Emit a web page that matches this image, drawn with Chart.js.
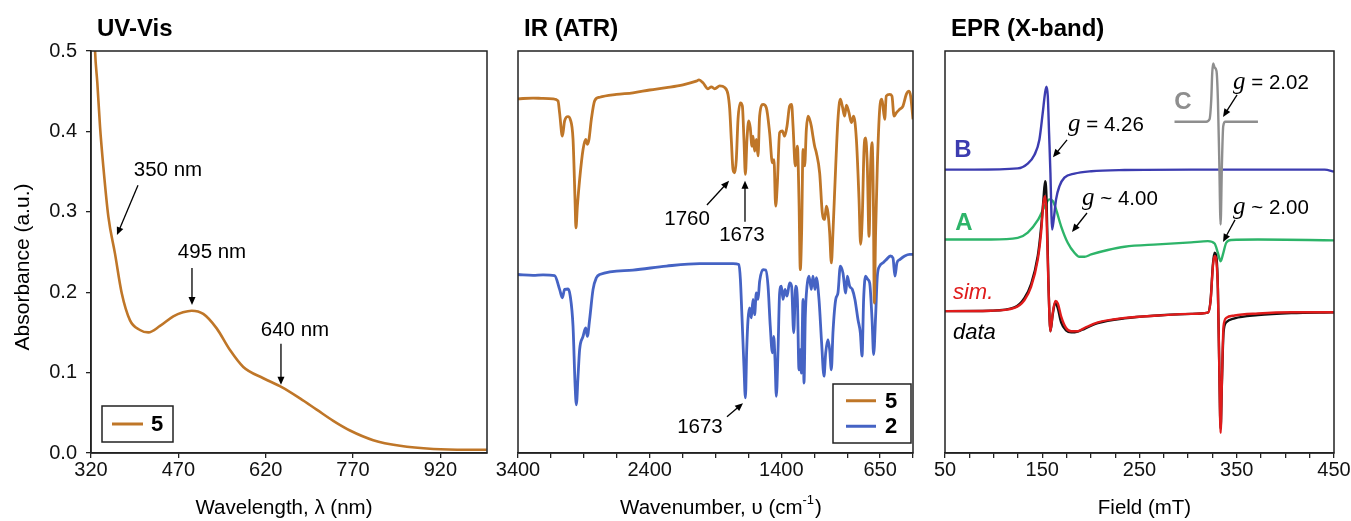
<!DOCTYPE html>
<html>
<head>
<meta charset="utf-8">
<script src="https://cdn.jsdelivr.net/npm/chart.js@4.4.1/dist/chart.umd.min.js"></script>
<style>
  body { margin: 0; background: #fff; width: 1351px; height: 521px; position: relative; overflow: hidden; }
  canvas { position: absolute; top: 0; }
</style>
</head>
<body>
<canvas id="uv" width="500" height="521" style="left:0px"></canvas>
<canvas id="ir" width="450" height="521" style="left:480px"></canvas>
<canvas id="epr" width="426" height="521" style="left:925px"></canvas>
<script>
const FONT = "'Liberation Sans', Arial, Helvetica, sans-serif";
const TXT = '20.5px ' + FONT;

// UV-Vis, compound 5
const uvWavelength = [324.5, 326.9, 330.9, 335.5, 341.2, 349.8, 361.2, 372.7, 387, 404, 418.4, 438.5, 461.3, 478, 492.9, 512.8, 535.8, 558.7, 581.5, 615.9, 647.5, 678.9, 707.5, 736, 764.7, 804.7, 850.6, 907.8, 965, 999.5];
const uvAbsorbance = [0.56, 0.501, 0.460, 0.406, 0.356, 0.294, 0.248, 0.199, 0.165, 0.153, 0.150, 0.158, 0.170, 0.175, 0.177, 0.173, 0.155, 0.128, 0.107, 0.093, 0.082, 0.068, 0.054, 0.040, 0.028, 0.016, 0.009, 0.005, 0.004, 0.004];
const uvTicks = [320, 470, 620, 770, 920];

// IR (ATR), compound 5
const irWavenumber5 = [3400, 3286, 3210, 3134, 3096, 3084, 3063, 3046, 3020, 3003, 2982, 2967, 2960, 2949, 2932, 2906, 2886, 2873, 2861, 2843, 2818, 2780, 2653, 2527, 2400, 2273, 2147, 2046, 2025, 1995, 1957, 1932, 1906, 1868, 1830, 1805, 1792, 1780, 1767, 1754, 1742, 1729, 1711, 1696, 1684, 1673, 1661, 1648, 1636, 1623, 1615, 1603, 1590, 1577, 1565, 1539, 1514, 1489, 1468, 1456, 1443, 1430, 1413, 1392, 1375, 1357, 1337, 1322, 1311, 1294, 1278, 1266, 1256, 1246, 1235, 1223, 1210, 1198, 1185, 1172, 1160, 1147, 1134, 1109, 1089, 1071, 1058, 1046, 1033, 1020, 1008, 987, 970, 952, 937, 919, 906, 886, 868, 851, 830, 810, 798, 785, 772, 760, 747, 734, 722, 711, 701, 694, 684, 671, 653, 636, 615, 603, 577, 560, 544, 527, 501, 476, 451, 430, 418, 400];
const irSignal5 = [88.1, 88.3, 88.2, 88.1, 87.6, 84.6, 78.8, 82.6, 83.7, 83.0, 78.0, 63.1, 56.0, 61.4, 68.0, 75.5, 78.0, 76.8, 78.0, 83.0, 87.6, 88.5, 89.2, 89.6, 90.3, 90.9, 91.6, 92.5, 92.8, 92.1, 90.6, 91.1, 90.6, 91.3, 90.9, 89.2, 85.5, 78.0, 70.5, 69.7, 73.0, 83.0, 87.1, 86.3, 78.0, 69.3, 78.0, 82.6, 80.9, 76.3, 78.8, 75.1, 78.0, 73.9, 83.8, 86.7, 85.9, 79.7, 72.2, 73.0, 61.4, 67.2, 79.7, 80.1, 78.8, 81.3, 86.3, 86.7, 81.3, 71.4, 76.3, 63.1, 45.6, 54.8, 75.5, 71.4, 80.5, 83.8, 83.0, 81.3, 78.8, 76.3, 74.7, 69.7, 59.8, 58.1, 61.4, 59.8, 54.8, 47.3, 54.8, 71.4, 83.0, 88.0, 86.3, 83.8, 86.5, 84.6, 82.2, 83.8, 78.0, 63.1, 51.9, 58.9, 75.5, 78.4, 71.4, 53.9, 71.4, 77.2, 63.1, 37.3, 54.8, 71.4, 85.5, 88.0, 83.0, 88.8, 89.2, 88.8, 83.8, 84.6, 85.5, 86.3, 89.2, 90.0, 88.8, 83.0];

// IR (ATR), compound 2
const irWavenumber2 = [3400, 3286, 3210, 3122, 3084, 3063, 3046, 3020, 3003, 2982, 2967, 2957, 2944, 2932, 2906, 2886, 2873, 2856, 2830, 2805, 2780, 2527, 2273, 2020, 1894, 1767, 1722, 1711, 1699, 1684, 1673, 1663, 1653, 1641, 1628, 1615, 1603, 1590, 1577, 1565, 1539, 1519, 1501, 1484, 1468, 1458, 1448, 1438, 1425, 1413, 1400, 1387, 1372, 1357, 1337, 1322, 1306, 1291, 1278, 1266, 1256, 1248, 1235, 1228, 1218, 1205, 1190, 1172, 1160, 1144, 1134, 1114, 1094, 1076, 1063, 1046, 1033, 1020, 1008, 987, 970, 952, 932, 911, 899, 881, 861, 841, 818, 800, 787, 775, 760, 744, 729, 711, 699, 684, 671, 653, 628, 603, 572, 552, 537, 522, 501, 463, 425, 400];
const irSignal2 = [44.4, 44.2, 44.3, 44.1, 40.7, 38.6, 40.7, 40.8, 39.0, 31.5, 17.4, 12.0, 19.1, 25.7, 29.0, 31.1, 29.0, 33.2, 40.7, 43.6, 44.4, 45.5, 46.5, 47.1, 47.1, 47.1, 46.9, 43.2, 34.0, 21.6, 13.7, 25.7, 33.2, 36.1, 33.6, 38.2, 34.4, 39.8, 38.2, 42.7, 45.6, 45.5, 41.5, 31.5, 24.9, 29.0, 23.2, 14.1, 25.7, 39.8, 41.5, 38.2, 40.7, 39.0, 42.3, 41.5, 29.9, 41.5, 38.2, 20.7, 25.7, 19.9, 38.2, 17.4, 34.0, 41.5, 44.0, 40.7, 44.0, 40.7, 43.6, 38.2, 27.4, 19.1, 24.9, 28.2, 25.7, 20.7, 29.9, 38.2, 39.8, 46.5, 44.8, 39.8, 44.0, 41.5, 40.7, 38.2, 33.2, 29.9, 24.1, 38.2, 44.0, 43.2, 42.3, 33.2, 24.5, 34.0, 44.0, 46.5, 47.3, 48.1, 49.0, 48.5, 44.0, 47.3, 48.1, 49.0, 49.4, 49.4];
const irTickLabels = [3400, 2400, 1400, 650];

// EPR (X-band)
const eprFieldB = [50, 80.2, 124.8, 135.1, 141.9, 147.1, 150.5, 152.9, 154.3, 155.7, 157.0, 158.4, 159.4, 160.1, 161.8, 164.2, 167.7, 172.8, 183.1, 200.3, 234.6, 303.2, 371.8, 440.4, 450];
const eprB = [70.5, 70.5, 70.8, 72.0, 74.1, 78.0, 84.6, 89.6, 91.1, 88.8, 79.7, 69.7, 59.8, 55.6, 58.1, 63.1, 66.4, 68.5, 69.5, 70.1, 70.4, 70.5, 70.5, 70.5, 70.0];
const eprFieldA = [50, 97.3, 124.8, 135.1, 145.4, 152.2, 157.4, 160.8, 164.2, 169.4, 176.2, 183.1, 188.2, 193.4, 200.3, 217.4, 234.6, 268.9, 303.2, 320.3, 327.2, 330.6, 333.4, 335.8, 339.2, 344.3, 371.8, 450];
const eprA = [53.1, 53.1, 53.5, 54.8, 57.9, 61.2, 63.1, 62.7, 60.6, 56.4, 52.3, 49.8, 48.8, 48.8, 49.4, 50.5, 51.3, 51.9, 52.4, 52.7, 52.1, 49.8, 47.7, 49.4, 52.3, 53.0, 53.1, 52.9];
const eprFieldC = [286.0, 318.6, 322.0, 323.8, 324.8, 325.8, 327.2, 329.2, 330.6, 332.0, 333.4, 334.7, 336.1, 338.2, 371.8];
const eprC = [82.4, 82.4, 83.0, 88.0, 94.6, 96.9, 95.9, 95.0, 88.0, 73.0, 56.8, 71.4, 81.3, 82.4, 82.4];
const eprFieldSim = [50, 97.3, 121.4, 131.6, 138.5, 145.4, 148.8, 151.2, 152.9, 154.3, 156.3, 158.4, 160.8, 163.5, 166.0, 169.4, 174.5, 179.7, 186.5, 193.4, 207.1, 234.6, 268.9, 303.2, 320.3, 323.1, 325.5, 327.2, 329.2, 330.6, 332.0, 333.4, 334.7, 336.4, 339.2, 347.8, 371.8, 406.1, 450];
const eprSim = [35.3, 35.4, 36.1, 38.0, 41.3, 48.1, 54.8, 62.2, 63.9, 59.8, 42.3, 30.3, 34.9, 37.8, 37.2, 34.0, 31.1, 30.3, 30.3, 31.1, 32.5, 33.6, 34.2, 34.6, 34.9, 37.8, 46.5, 49.0, 47.3, 40.7, 21.6, 5.0, 17.4, 31.5, 33.6, 34.2, 34.7, 35.0, 35.0];
const eprFieldData = [50, 97.3, 121.4, 131.6, 138.5, 145.4, 148.8, 151.2, 152.9, 154.3, 156.3, 158.4, 160.8, 163.5, 166.0, 169.4, 174.5, 179.7, 186.5, 193.4, 207.1, 234.6, 268.9, 303.2, 320.3, 323.1, 325.5, 327.2, 329.2, 330.6, 332.0, 333.4, 334.7, 336.4, 339.2, 347.8, 371.8, 406.1, 450];
const eprData = [35.3, 35.4, 36.2, 38.5, 42.0, 49.0, 56.0, 63.0, 67.6, 64.0, 43.0, 30.3, 34.5, 37.5, 36.0, 32.5, 30.5, 30.0, 30.2, 30.9, 32.3, 33.5, 34.2, 34.6, 34.9, 38.0, 47.0, 49.8, 48.5, 41.0, 22.0, 6.0, 17.0, 30.0, 32.5, 33.5, 34.3, 34.8, 35.0];
const eprTickLabels = [50, 150, 250, 350, 450];

const ORANGE = '#bf7628';
const IRBLUE = '#4563c4';

function pts(xs, ys) {
  return xs.map((x, i) => ({ x: x, y: ys[i] }));
}

function arrow(ctx, x1, y1, x2, y2) {
  const a = Math.atan2(y2 - y1, x2 - x1), L = 8, W = 3.5;
  ctx.beginPath();
  ctx.moveTo(x1, y1);
  ctx.lineTo(x2 - Math.cos(a) * L * 0.7, y2 - Math.sin(a) * L * 0.7);
  ctx.stroke();
  ctx.beginPath();
  ctx.moveTo(x2, y2);
  ctx.lineTo(x2 - L * Math.cos(a) + W * Math.sin(a), y2 - L * Math.sin(a) - W * Math.cos(a));
  ctx.lineTo(x2 - L * Math.cos(a) - W * Math.sin(a), y2 - L * Math.sin(a) + W * Math.cos(a));
  ctx.closePath();
  ctx.fill();
}

// frame, titles, arrows, legends
const deco = {
  id: 'deco',
  afterDraw(chart, args, o) {
    const { ctx, chartArea: a, scales } = chart;
    const px = v => scales.x.getPixelForValue(v);
    const py = v => scales.y.getPixelForValue(v);
    ctx.save();
    ctx.strokeStyle = '#222';
    ctx.lineWidth = 1.5;
    ctx.strokeRect(a.left, a.top, a.right - a.left, a.bottom - a.top);

    ctx.fillStyle = '#000';
    ctx.textBaseline = 'middle';
    ctx.textAlign = 'left';
    ctx.font = 'bold 24px ' + FONT;
    ctx.fillText(o.title, a.left + 6, 29);

    // x title (optional superscript)
    ctx.font = TXT;
    const cx = (a.left + a.right) / 2 + o.xTitleDx;
    if (o.xSup) {
      const w1 = ctx.measureText(o.xTitle).width;
      ctx.font = '13px ' + FONT;
      const w2 = ctx.measureText(o.xSup).width;
      ctx.font = TXT;
      const w3 = ctx.measureText(o.xTitleEnd).width;
      const x0 = cx - (w1 + w2 + w3) / 2;
      ctx.fillText(o.xTitle, x0, 508);
      ctx.font = '13px ' + FONT;
      ctx.fillText(o.xSup, x0 + w1, 500);
      ctx.font = TXT;
      ctx.fillText(o.xTitleEnd, x0 + w1 + w2 + 1, 508);
    } else {
      ctx.textAlign = 'center';
      ctx.fillText(o.xTitle, cx, 508);
    }
    if (o.yTitle) {
      ctx.save();
      ctx.translate(23, 267);
      ctx.rotate(-Math.PI / 2);
      ctx.textAlign = 'center';
      ctx.font = '21px ' + FONT;
      ctx.fillText(o.yTitle, 0, 0);
      ctx.restore();
    }

    // arrows
    ctx.strokeStyle = '#000';
    ctx.fillStyle = '#000';
    ctx.lineWidth = 1.3;
    (o.arrows || []).forEach(r => arrow(ctx, px(r[0]), py(r[1]), px(r[2]), py(r[3])));

    // labels
    (o.labels || []).forEach(l => {
      ctx.fillStyle = l.color || '#000';
      ctx.textAlign = l.align || 'center';
      if (l.g) {
        ctx.textAlign = 'left';
        ctx.font = 'italic 25px "Liberation Serif", "Times New Roman", serif';
        const gw = ctx.measureText('g').width;
        ctx.fillText('g', px(l.x), py(l.y) - 1);
        ctx.font = TXT;
        ctx.fillText(l.text, px(l.x) + gw, py(l.y));
      } else {
        ctx.font = l.font || TXT;
        ctx.fillText(l.text, px(l.x), py(l.y));
      }
    });

    // legend box
    if (o.legend) {
      const L = o.legend;
      const n = chart.data.datasets.length;
      const bx = L.right != null ? a.right - L.right - L.w : a.left + L.left;
      const by = a.bottom - L.bottom - L.h;
      ctx.fillStyle = '#fff';
      ctx.fillRect(bx, by, L.w, L.h);
      ctx.strokeStyle = '#222';
      ctx.lineWidth = 1.5;
      ctx.strokeRect(bx, by, L.w, L.h);
      chart.data.datasets.forEach((d, i) => {
        const yy = by + L.h / (n * 2) * (2 * i + 1) + (n > 1 ? (i === 0 ? 2 : -2) : 0);
        ctx.strokeStyle = d.borderColor;
        ctx.lineWidth = 3;
        ctx.beginPath();
        ctx.moveTo(bx + L.lx1, yy);
        ctx.lineTo(bx + L.lx2, yy);
        ctx.stroke();
        ctx.fillStyle = '#000';
        ctx.font = 'bold 22px ' + FONT;
        ctx.textAlign = 'center';
        ctx.fillText(d.label, bx + L.tx, yy + 1);
      });
    }
    ctx.restore();
  }
};

const tickFont = { family: FONT, size: 20 };

function xAxis(extra) {
  return Object.assign({
    type: 'linear',
    afterFit: s => { s.height = 68; },
    grid: { drawOnChartArea: false, tickLength: 5, color: '#222', lineWidth: 1.3 },
    border: { color: '#222', width: 1.5 }
  }, extra);
}

const common = {
  responsive: false,
  animation: false,
  devicePixelRatio: 1,
  elements: { point: { radius: 0 } }
};

// Panel 1: UV-Vis
new Chart(document.getElementById('uv'), {
  type: 'scatter',
  data: {
    datasets: [{
      label: '5', data: pts(uvWavelength, uvAbsorbance), showLine: true,
      borderColor: ORANGE, borderWidth: 2.6, cubicInterpolationMode: 'monotone'
    }]
  },
  options: Object.assign({}, common, {
    layout: { padding: { left: 0, right: 13, top: 51, bottom: 0 } },
    plugins: {
      legend: { display: false }, tooltip: { enabled: false },
      deco: {
        title: 'UV-Vis', xTitle: 'Wavelength, \u03bb (nm)', xTitleDx: -5, yTitle: 'Absorbance (a.u.)',
        arrows: [[400.7, 0.333, 364.6, 0.271], [493.4, 0.230, 493.4, 0.184], [646.2, 0.136, 646.2, 0.085]],
        labels: [
          { text: '350 nm', x: 452.2, y: 0.351 },
          { text: '495 nm', x: 527.8, y: 0.249 },
          { text: '640 nm', x: 670.3, y: 0.152 }
        ],
        legend: { left: 11, bottom: 11, w: 71, h: 36, lx1: 10, lx2: 41, tx: 55 }
      }
    },
    scales: {
      x: xAxis({
        min: 320, max: 1000,
        afterBuildTicks: s => { s.ticks = uvTicks.map(v => ({ value: v })); },
        ticks: { font: tickFont, color: '#111', padding: 0, maxRotation: 0, autoSkip: false, callback: v => String(v) }
      }),
      y: {
        min: 0, max: 0.5,
        afterFit: s => { s.width = 91; },
        grid: { drawOnChartArea: false, tickLength: 5, color: '#222', lineWidth: 1.3 },
        border: { color: '#222', width: 1.5 },
        ticks: { stepSize: 0.1, padding: 9, font: tickFont, color: '#111', callback: v => v.toFixed(1) }
      }
    }
  }),
  plugins: [deco]
});

// Panel 2: IR
new Chart(document.getElementById('ir'), {
  type: 'scatter',
  data: {
    datasets: [
      { label: '5', data: pts(irWavenumber5, irSignal5), showLine: true, borderColor: ORANGE, borderWidth: 2.8, cubicInterpolationMode: 'monotone' },
      { label: '2', data: pts(irWavenumber2, irSignal2), showLine: true, borderColor: IRBLUE, borderWidth: 2.8, cubicInterpolationMode: 'monotone' }
    ]
  },
  options: Object.assign({}, common, {
    layout: { padding: { left: 38, right: 17, top: 51, bottom: 0 } },
    plugins: {
      legend: { display: false }, tooltip: { enabled: false },
      deco: {
        title: 'IR (ATR)', xTitle: 'Wavenumber, \u03c5 (cm', xSup: '-1', xTitleEnd: ')', xTitleDx: 5,
        arrows: [[1965, 61.7, 1797, 67.7], [1676, 57.5, 1676, 67.7], [1813, 9.0, 1691, 12.4]],
        labels: [
          { text: '1760', x: 2116, y: 58.2 },
          { text: '1673', x: 1699, y: 54.2 },
          { text: '1673', x: 2018, y: 6.5 }
        ],
        legend: { right: 2, bottom: 10, w: 78, h: 59, lx1: 13, lx2: 43, tx: 58 }
      }
    },
    scales: {
      x: xAxis({
        min: 400, max: 3400, reverse: true,
        ticks: { stepSize: 250, font: tickFont, color: '#111', padding: 0, maxRotation: 0, autoSkip: false,
          callback: v => irTickLabels.includes(v) ? String(v) : '' }
      }),
      y: { display: false, min: 0, max: 100 }
    }
  }),
  plugins: [deco]
});

// Panel 3: EPR
const eprLine = { showLine: true, borderWidth: 2.4, cubicInterpolationMode: 'monotone' };
new Chart(document.getElementById('epr'), {
  type: 'scatter',
  data: {
    datasets: [
      Object.assign({ label: 'C', data: pts(eprFieldC, eprC), borderColor: '#8e8e8e' }, eprLine),
      Object.assign({ label: 'B', data: pts(eprFieldB, eprB), borderColor: '#3c3cb0' }, eprLine),
      Object.assign({ label: 'sim.', data: pts(eprFieldSim, eprSim), borderColor: '#e01b1b' }, eprLine),
      Object.assign({ label: 'data', data: pts(eprFieldData, eprData), borderColor: '#111' }, eprLine),
      Object.assign({ label: 'A', data: pts(eprFieldA, eprA), borderColor: '#2db469' }, eprLine)
    ]
  },
  options: Object.assign({}, common, {
    layout: { padding: { left: 20, right: 17, top: 51, bottom: 0 } },
    plugins: {
      legend: { display: false }, tooltip: { enabled: false },
      deco: {
        title: 'EPR (X-band)', xTitle: 'Field (mT)', xTitleDx: 5,
        arrows: [[175.5, 77.9, 161, 73.6], [196, 59.7, 180.6, 55.0], [350.3, 89.1, 335.9, 83.6], [348.2, 58.0, 335.9, 52.5]],
        labels: [
          { text: 'B', x: 68.5, y: 75.4, color: '#3c3cb0', font: 'bold 24px ' + FONT },
          { text: 'A', x: 69.5, y: 57.2, color: '#2db469', font: 'bold 24px ' + FONT },
          { text: 'C', x: 294.7, y: 87.1, color: '#8e8e8e', font: 'bold 24px ' + FONT },
          { text: 'sim.', x: 58.2, y: 39.8, color: '#e01b1b', font: 'italic 22px ' + FONT, align: 'left' },
          { text: 'data', x: 58.2, y: 29.9, color: '#000', font: 'italic 22px ' + FONT, align: 'left' },
          { g: true, text: ' = 4.26', x: 176.5, y: 81.6 },
          { g: true, text: ' ~ 4.00', x: 190.9, y: 63.2 },
          { g: true, text: ' = 2.02', x: 346.2, y: 92.0 },
          { g: true, text: ' ~ 2.00', x: 346.2, y: 60.9 }
        ]
      }
    },
    scales: {
      x: xAxis({
        min: 50, max: 450,
        ticks: { stepSize: 25, font: tickFont, color: '#111', padding: 0, maxRotation: 0, autoSkip: false,
          callback: v => eprTickLabels.includes(v) ? String(v) : '' }
      }),
      y: { display: false, min: 0, max: 100 }
    }
  }),
  plugins: [deco]
});
</script>
</body>
</html>
